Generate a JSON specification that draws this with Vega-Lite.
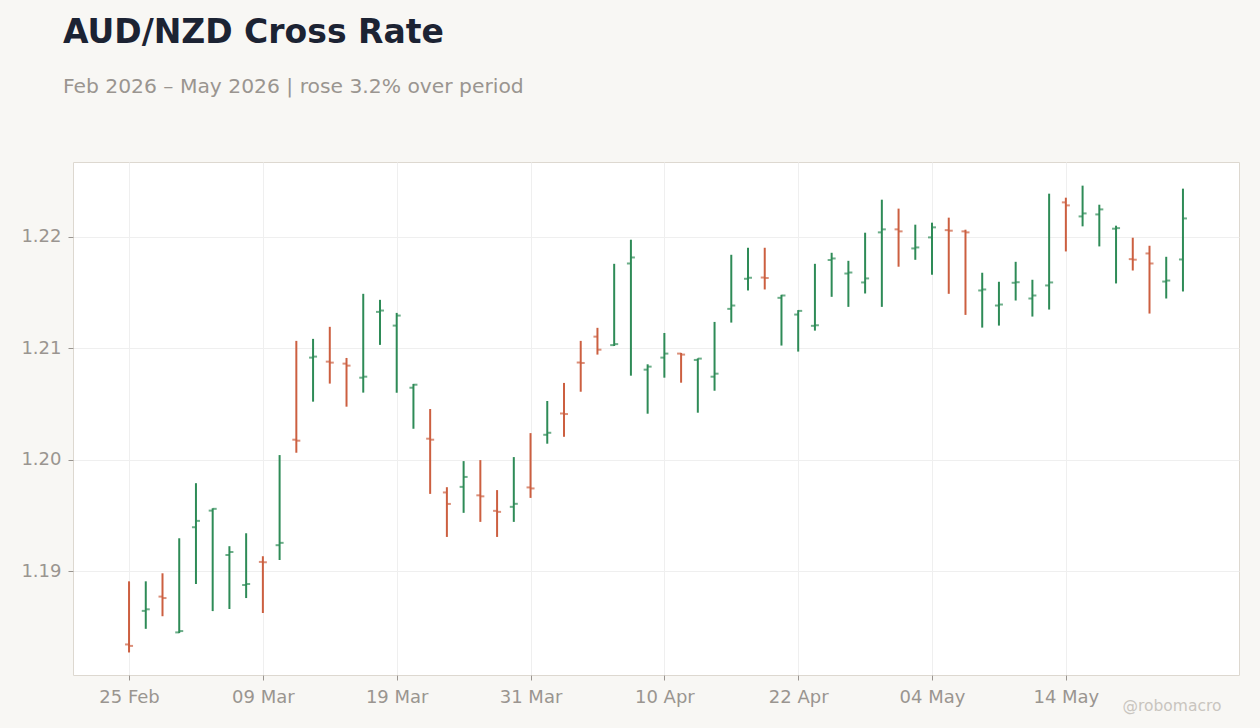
{
  "$schema": "https://vega.github.io/schema/vega-lite/v6.json",
  "width": 1166,
  "height": 513,
  "autosize": {"type": "none"},
  "padding": {"left": 73, "top": 162, "right": 21, "bottom": 53},
  "background": "#f8f7f4",
  "title": {
    "text": "AUD/NZD Cross Rate",
    "subtitle": "Feb 2026 – May 2026 | rose 3.2% over period",
    "anchor": "start",
    "dx": 42,
    "offset": 65,
    "font": "DejaVu Sans",
    "fontSize": 33,
    "fontWeight": "bold",
    "color": "#1c2333",
    "subtitleFont": "DejaVu Sans",
    "subtitleFontSize": 20.3,
    "subtitleColor": "#9a9590",
    "subtitlePadding": 27
  },
  "config": {
    "view": {"fill": "#ffffff", "stroke": "#ddd8d0", "strokeWidth": 1},
    "axis": {
      "labelFont": "DejaVu Sans",
      "labelFontSize": 18,
      "labelColor": "#9a9590",
      "tickColor": "#9a9590",
      "tickSize": 5,
      "gridColor": "#efefef",
      "gridWidth": 1,
      "domain": false
    }
  },
  "data": {
    "values": [
      {"date": "2026-02-25", "open": 1.18344, "high": 1.18910, "low": 1.18272, "close": 1.18331},
      {"date": "2026-02-26", "open": 1.18645, "high": 1.18910, "low": 1.18484, "close": 1.18659},
      {"date": "2026-02-27", "open": 1.18773, "high": 1.18982, "low": 1.18597, "close": 1.18760},
      {"date": "2026-03-02", "open": 1.18452, "high": 1.19296, "low": 1.18446, "close": 1.18464},
      {"date": "2026-03-03", "open": 1.19395, "high": 1.19790, "low": 1.18886, "close": 1.19452},
      {"date": "2026-03-04", "open": 1.19544, "high": 1.19565, "low": 1.18643, "close": 1.19560},
      {"date": "2026-03-05", "open": 1.19146, "high": 1.19225, "low": 1.18662, "close": 1.19173},
      {"date": "2026-03-06", "open": 1.18877, "high": 1.19341, "low": 1.18760, "close": 1.18886},
      {"date": "2026-03-09", "open": 1.19084, "high": 1.19135, "low": 1.18626, "close": 1.19081},
      {"date": "2026-03-10", "open": 1.19234, "high": 1.20042, "low": 1.19101, "close": 1.19255},
      {"date": "2026-03-11", "open": 1.20180, "high": 1.21066, "low": 1.20063, "close": 1.20171},
      {"date": "2026-03-12", "open": 1.20916, "high": 1.21084, "low": 1.20521, "close": 1.20925},
      {"date": "2026-03-13", "open": 1.20880, "high": 1.21192, "low": 1.20683, "close": 1.20871},
      {"date": "2026-03-16", "open": 1.20862, "high": 1.20913, "low": 1.20476, "close": 1.20844},
      {"date": "2026-03-17", "open": 1.20736, "high": 1.21488, "low": 1.20602, "close": 1.20745},
      {"date": "2026-03-18", "open": 1.21326, "high": 1.21434, "low": 1.21030, "close": 1.21338},
      {"date": "2026-03-19", "open": 1.21203, "high": 1.21317, "low": 1.20601, "close": 1.21293},
      {"date": "2026-03-20", "open": 1.20646, "high": 1.20680, "low": 1.20278, "close": 1.20673},
      {"date": "2026-03-23", "open": 1.20189, "high": 1.20455, "low": 1.19694, "close": 1.20180},
      {"date": "2026-03-24", "open": 1.19707, "high": 1.19754, "low": 1.19308, "close": 1.19604},
      {"date": "2026-03-25", "open": 1.19757, "high": 1.19988, "low": 1.19524, "close": 1.19846},
      {"date": "2026-03-26", "open": 1.19681, "high": 1.19997, "low": 1.19443, "close": 1.19672},
      {"date": "2026-03-27", "open": 1.19542, "high": 1.19728, "low": 1.19308, "close": 1.19533},
      {"date": "2026-03-30", "open": 1.19578, "high": 1.20024, "low": 1.19443, "close": 1.19605},
      {"date": "2026-03-31", "open": 1.19752, "high": 1.20239, "low": 1.19658, "close": 1.19743},
      {"date": "2026-04-01", "open": 1.20224, "high": 1.20527, "low": 1.20144, "close": 1.20242},
      {"date": "2026-04-02", "open": 1.20415, "high": 1.20689, "low": 1.20206, "close": 1.20410},
      {"date": "2026-04-03", "open": 1.20872, "high": 1.21066, "low": 1.20610, "close": 1.20868},
      {"date": "2026-04-06", "open": 1.21104, "high": 1.21183, "low": 1.20943, "close": 1.20987},
      {"date": "2026-04-07", "open": 1.21028, "high": 1.21757, "low": 1.21020, "close": 1.21037},
      {"date": "2026-04-08", "open": 1.21760, "high": 1.21973, "low": 1.20754, "close": 1.21814},
      {"date": "2026-04-09", "open": 1.20808, "high": 1.20856, "low": 1.20413, "close": 1.20835},
      {"date": "2026-04-10", "open": 1.20916, "high": 1.21137, "low": 1.20736, "close": 1.20952},
      {"date": "2026-04-13", "open": 1.20952, "high": 1.20958, "low": 1.20691, "close": 1.20943},
      {"date": "2026-04-14", "open": 1.20895, "high": 1.20909, "low": 1.20422, "close": 1.20907},
      {"date": "2026-04-15", "open": 1.20745, "high": 1.21236, "low": 1.20619, "close": 1.20772},
      {"date": "2026-04-16", "open": 1.21353, "high": 1.21838, "low": 1.21230, "close": 1.21383},
      {"date": "2026-04-17", "open": 1.21623, "high": 1.21901, "low": 1.21518, "close": 1.21632},
      {"date": "2026-04-20", "open": 1.21634, "high": 1.21901, "low": 1.21527, "close": 1.21630},
      {"date": "2026-04-21", "open": 1.21452, "high": 1.21479, "low": 1.21024, "close": 1.21473},
      {"date": "2026-04-22", "open": 1.21302, "high": 1.21342, "low": 1.20970, "close": 1.21335},
      {"date": "2026-04-23", "open": 1.21201, "high": 1.21757, "low": 1.21158, "close": 1.21206},
      {"date": "2026-04-24", "open": 1.21791, "high": 1.21856, "low": 1.21461, "close": 1.21805},
      {"date": "2026-04-27", "open": 1.21670, "high": 1.21784, "low": 1.21371, "close": 1.21679},
      {"date": "2026-04-28", "open": 1.21590, "high": 1.22036, "low": 1.21491, "close": 1.21626},
      {"date": "2026-04-29", "open": 1.22039, "high": 1.22332, "low": 1.21371, "close": 1.22066},
      {"date": "2026-04-30", "open": 1.22066, "high": 1.22252, "low": 1.21731, "close": 1.22048},
      {"date": "2026-05-01", "open": 1.21895, "high": 1.22108, "low": 1.21793, "close": 1.21904},
      {"date": "2026-05-04", "open": 1.21994, "high": 1.22126, "low": 1.21659, "close": 1.22084},
      {"date": "2026-05-05", "open": 1.22059, "high": 1.22171, "low": 1.21488, "close": 1.22054},
      {"date": "2026-05-06", "open": 1.22048, "high": 1.22063, "low": 1.21299, "close": 1.22039},
      {"date": "2026-05-07", "open": 1.21518, "high": 1.21677, "low": 1.21185, "close": 1.21527},
      {"date": "2026-05-08", "open": 1.21383, "high": 1.21596, "low": 1.21203, "close": 1.21392},
      {"date": "2026-05-11", "open": 1.21587, "high": 1.21775, "low": 1.21428, "close": 1.21592},
      {"date": "2026-05-12", "open": 1.21446, "high": 1.21614, "low": 1.21284, "close": 1.21473},
      {"date": "2026-05-13", "open": 1.21563, "high": 1.22386, "low": 1.21347, "close": 1.21590},
      {"date": "2026-05-14", "open": 1.22308, "high": 1.22350, "low": 1.21868, "close": 1.22281},
      {"date": "2026-05-15", "open": 1.22182, "high": 1.22458, "low": 1.22093, "close": 1.22209},
      {"date": "2026-05-18", "open": 1.22200, "high": 1.22287, "low": 1.21913, "close": 1.22245},
      {"date": "2026-05-19", "open": 1.22072, "high": 1.22099, "low": 1.21581, "close": 1.22077},
      {"date": "2026-05-20", "open": 1.21799, "high": 1.21991, "low": 1.21697, "close": 1.21794},
      {"date": "2026-05-21", "open": 1.21850, "high": 1.21919, "low": 1.21311, "close": 1.21760},
      {"date": "2026-05-22", "open": 1.21598, "high": 1.21820, "low": 1.21446, "close": 1.21607},
      {"date": "2026-05-25", "open": 1.21796, "high": 1.22431, "low": 1.21509, "close": 1.22164}
    ]
  },
  "encoding": {
    "x": {
      "field": "date",
      "type": "ordinal",
      "scale": {
        "type": "point",
        "padding": 0.35,
        "domain": [
          "2026-02-20", "2026-02-23", "2026-02-24",
          "2026-02-25", "2026-02-26", "2026-02-27",
          "2026-03-02", "2026-03-03", "2026-03-04", "2026-03-05", "2026-03-06",
          "2026-03-09", "2026-03-10", "2026-03-11", "2026-03-12", "2026-03-13",
          "2026-03-16", "2026-03-17", "2026-03-18", "2026-03-19", "2026-03-20",
          "2026-03-23", "2026-03-24", "2026-03-25", "2026-03-26", "2026-03-27",
          "2026-03-30", "2026-03-31", "2026-04-01", "2026-04-02", "2026-04-03",
          "2026-04-06", "2026-04-07", "2026-04-08", "2026-04-09", "2026-04-10",
          "2026-04-13", "2026-04-14", "2026-04-15", "2026-04-16", "2026-04-17",
          "2026-04-20", "2026-04-21", "2026-04-22", "2026-04-23", "2026-04-24",
          "2026-04-27", "2026-04-28", "2026-04-29", "2026-04-30", "2026-05-01",
          "2026-05-04", "2026-05-05", "2026-05-06", "2026-05-07", "2026-05-08",
          "2026-05-11", "2026-05-12", "2026-05-13", "2026-05-14", "2026-05-15",
          "2026-05-18", "2026-05-19", "2026-05-20", "2026-05-21", "2026-05-22",
          "2026-05-25", "2026-05-26", "2026-05-27", "2026-05-28"
        ]
      },
      "axis": {
        "values": ["2026-02-25", "2026-03-09", "2026-03-19", "2026-03-31", "2026-04-10", "2026-04-22", "2026-05-04", "2026-05-14"],
        "labelExpr": "utcFormat(toDate(datum.value), '%d %b')",
        "labelAngle": 0,
        "labelPadding": 8,
        "grid": true,
        "title": "@robomacro",
        "titleFont": "DejaVu Sans",
        "titleFontSize": 15.5,
        "titleFontWeight": "normal",
        "titleColor": "#c9c5bf",
        "titleAnchor": null,
        "titleAlign": "right",
        "titleBaseline": "alphabetic",
        "titleX": 1148,
        "titleY": 35
      }
    },
    "color": {
      "condition": {"test": "datum.close >= datum.open", "value": "#2e8b57"},
      "value": "#cc5f40"
    }
  },
  "layer": [
    {
      "mark": {"type": "rule", "strokeWidth": 2},
      "encoding": {
        "y": {
          "field": "low",
          "type": "quantitative",
          "scale": {"domain": [1.1807, 1.2267], "nice": false, "zero": false},
          "axis": {
            "values": [1.19, 1.2, 1.21, 1.22],
            "format": ".2f",
            "labelPadding": 7,
            "title": null,
            "grid": true
          }
        },
        "y2": {"field": "high"}
      }
    },
    {
      "mark": {"type": "tick", "size": 4, "thickness": 2, "xOffset": -2},
      "encoding": {"y": {"field": "open", "type": "quantitative"}}
    },
    {
      "mark": {"type": "tick", "size": 4, "thickness": 2, "xOffset": 2},
      "encoding": {"y": {"field": "close", "type": "quantitative"}}
    }
  ]
}
